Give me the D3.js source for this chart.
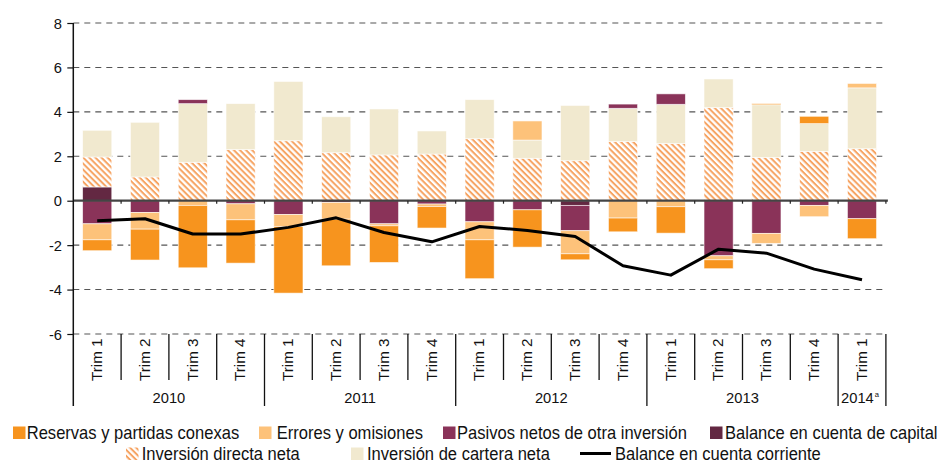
<!DOCTYPE html>
<html>
<head>
<meta charset="utf-8">
<script src="https://cdn.jsdelivr.net/npm/d3@7"></script>
<style>
  html, body { margin: 0; padding: 0; background: #fff; }
  svg { display: block; font-family: "Liberation Sans", Arial, sans-serif; }
</style>
</head>
<body>
<svg id="chart" width="946" height="464"></svg>
<script>
// ---------------- DATA ----------------
const quarters = ["Trim 1","Trim 2","Trim 3","Trim 4","Trim 1","Trim 2","Trim 3","Trim 4",
                  "Trim 1","Trim 2","Trim 3","Trim 4","Trim 1","Trim 2","Trim 3","Trim 4","Trim 1"];
const years = ["2010","2011","2012","2013","2014"];
const quartersPerYear = [4, 4, 4, 4, 1];
const yTicks = [-6, -4, -2, 0, 2, 4, 6, 8];

const capitalBalance = [0.62, 0, 0, 0, 0, 0, 0, 0, 0, 0, -0.21, 0, 0, 0, 0, 0, 0];
const directInvest   = [1.35, 1.07, 1.73, 2.30, 2.70, 2.16, 2.06, 2.10, 2.79, 1.91, 1.80, 2.66, 2.57, 4.19, 1.95, 2.22, 2.34];
const portfolioInv   = [1.20, 2.46, 2.64, 2.07, 2.67, 1.62, 2.07, 1.04, 1.76, 0.82, 2.49, 1.50, 1.77, 1.29, 2.37, 1.25, 2.74];
const otherLiab      = [-1.04, -0.53, 0.18, -0.14, -0.62, -0.08, -1.04, -0.15, -0.95, -0.41, -1.14, 0.19, 0.47, -2.48, -1.47, -0.21, -0.81];
const errorsOmis     = [-0.72, -0.75, -0.21, -0.72, -0.54, -0.75, -0.09, -0.11, -0.81, 0.86, -1.04, -0.78, -0.27, -0.18, -0.45, -0.51, 0.20];
const reserves       = [-0.49, -1.39, -2.81, -1.95, -3.00, -2.10, -1.65, -0.97, -1.75, -1.68, -0.27, -0.62, -1.19, -0.40, 0.05, 0.33, -0.90];
const currentAcct    = [-0.90, -0.81, -1.50, -1.50, -1.20, -0.77, -1.43, -1.85, -1.16, -1.34, -1.61, -2.93, -3.35, -2.18, -2.36, -3.08, -3.56];

const seriesKeys = ["capital", "direct", "portfolio", "liab", "errors", "reserves"];
const seriesNames = {
  reserves: "Reservas y partidas conexas",
  errors: "Errores y omisiones",
  liab: "Pasivos netos de otra inversión",
  capital: "Balance en cuenta de capital",
  direct: "Inversión directa neta",
  portfolio: "Inversión de cartera neta",
  line: "Balance en cuenta corriente"
};
// ---------------- STYLE ----------------
const colors = {
  reserves: "#f7941e",
  errors: "#fdc27a",
  liab: "#8a3359",
  capital: "#632842",
  direct: "url(#hatch)",
  portfolio: "#f1e9cf"
};

const svg = d3.select("#chart");
const plotLeft = 73.3, plotRight = 885.9, plotTop = 23, plotBottom = 334;

const defs = svg.append("defs");
const pat = defs.append("pattern")
  .attr("id", "hatch")
  .attr("patternUnits", "userSpaceOnUse")
  .attr("width", 4.3).attr("height", 4.3)
  .attr("patternTransform", "rotate(45)");
pat.append("rect").attr("width", 4.3).attr("height", 4.3).attr("fill", "#fff");
pat.append("rect").attr("width", 4.3).attr("height", 2.0).attr("fill", "#f6a463");

const table = quarters.map((q, i) => ({
  i,
  capital: capitalBalance[i],
  direct: directInvest[i],
  portfolio: portfolioInv[i],
  liab: otherLiab[i],
  errors: errorsOmis[i],
  reserves: reserves[i]
}));

const x = d3.scaleBand()
  .domain(d3.range(quarters.length))
  .range([plotLeft, plotRight])
  .paddingInner(0.39)
  .paddingOuter(0.195);
const step = x.step();
const xc = i => x(i) + x.bandwidth() / 2;

const y = d3.scaleLinear().domain([-6, 8]).range([plotBottom, plotTop]);

// text helper with horizontal compression
function label(g, px, py, str, size, anchor, sx) {
  return g.append("text")
    .attr("transform", `translate(${px},${py}) scale(${sx},1)`)
    .attr("text-anchor", anchor)
    .style("font-size", size + "px")
    .attr("fill", "#111")
    .text(str);
}

// gridlines
const grid = svg.append("g");
yTicks.filter(t => t !== 0).forEach(t => {
  grid.append("line")
    .attr("x1", plotLeft).attr("x2", plotRight + 1)
    .attr("y1", y(t)).attr("y2", y(t))
    .attr("stroke", "#555").attr("stroke-width", 1.1)
    .attr("stroke-dasharray", "6,5");
});

// y axis (ticks + labels)
const yAxis = d3.axisLeft(y).tickValues(yTicks).tickSize(6).tickFormat(d3.format("d"));
const yg = svg.append("g").attr("transform", `translate(${plotLeft},0)`).call(yAxis);
yg.select(".domain").remove();
yg.selectAll(".tick line").attr("stroke", "#111").attr("stroke-width", 1.2);
yg.selectAll(".tick text").remove();
yTicks.forEach(t => {
  label(svg, 62, y(t) + 5.5, String(t), 15.5, "end", 0.95);
});

// bars
const stack = d3.stack().keys(seriesKeys).offset(d3.stackOffsetDiverging);
const stacked = stack(table);
const barG = svg.append("g");
stacked.forEach(s => {
  barG.append("g")
    .selectAll("rect")
    .data(s.filter(d => d[1] - d[0] !== 0))
    .join("rect")
    .attr("x", d => x(d.data.i))
    .attr("width", x.bandwidth())
    .attr("y", d => y(Math.max(d[0], d[1])))
    .attr("height", d => Math.abs(y(d[0]) - y(d[1])))
    .attr("fill", colors[s.key])
    .attr("stroke", "#fff").attr("stroke-width", 0.8).attr("stroke-opacity", 0.7);
});

// zero line
svg.append("line")
  .attr("x1", plotLeft).attr("x2", plotRight + 2)
  .attr("y1", y(0)).attr("y2", y(0))
  .attr("stroke", "#444").attr("stroke-width", 2.2);
d3.range(1, quarters.length + 1).forEach(k => {
  const bx = plotLeft + k * step;
  svg.append("line").attr("x1", bx).attr("x2", bx)
    .attr("y1", y(0)).attr("y2", y(0) + 3)
    .attr("stroke", "#222").attr("stroke-width", 1.2);
});

// current account line
const lineGen = d3.line().x((d, i) => xc(i)).y(d => y(d));
svg.append("path")
  .datum(currentAcct)
  .attr("d", lineGen)
  .attr("fill", "none")
  .attr("stroke", "#000")
  .attr("stroke-width", 3)
  .attr("stroke-linejoin", "round");

// y axis line
svg.append("line")
  .attr("x1", plotLeft).attr("x2", plotLeft)
  .attr("y1", plotTop).attr("y2", 406)
  .attr("stroke", "#111").attr("stroke-width", 1.5);

// category separators
const yearStarts = [];
let acc = 0;
quartersPerYear.forEach(n => { yearStarts.push(acc); acc += n; });
yearStarts.push(acc);
d3.range(1, quarters.length + 1).forEach(k => {
  const bx = plotLeft + k * step;
  const isYear = yearStarts.includes(k);
  svg.append("line").attr("x1", bx).attr("x2", bx)
    .attr("y1", plotBottom).attr("y2", isYear ? 406 : 380)
    .attr("stroke", "#111").attr("stroke-width", 1.3);
});

// quarter labels
quarters.forEach((q, i) => {
  svg.append("text")
    .attr("transform", `translate(${xc(i) + 4.8},${338.5}) rotate(-90) scale(1.05,1)`)
    .attr("text-anchor", "end")
    .style("font-size", "14.5px")
    .attr("fill", "#111")
    .text(q);
});

// year labels
years.forEach((yr, j) => {
  const cx = plotLeft + (yearStarts[j] + yearStarts[j + 1]) / 2 * step;
  const t = svg.append("text")
    .attr("transform", `translate(${j === 4 ? cx - 2 : cx},403) scale(0.95,1)`)
    .attr("text-anchor", "middle")
    .style("font-size", "15.5px")
    .attr("fill", "#111")
    .text(yr);
  if (j === 4) {
    t.append("tspan").attr("dy", -6).attr("dx", 1).style("font-size", "8px").text("a");
  }
});

// legend
const legend = svg.append("g");
const legendItems = [
  { key: "reserves",  sx: 13,  tx: 26.7, row: 0, type: "box" },
  { key: "errors",    sx: 259, tx: 276.7, row: 0, type: "box" },
  { key: "liab",      sx: 443, tx: 457,  row: 0, type: "box" },
  { key: "capital",   sx: 710, tx: 725,  row: 0, type: "box" },
  { key: "direct",    sx: 126, tx: 141.7, row: 1, type: "box" },
  { key: "portfolio", sx: 351, tx: 367,  row: 1, type: "box" },
  { key: "line",      sx: 580, tx: 615,  row: 1, type: "line" }
];
const rowBase = [439, 460];
legendItems.forEach(it => {
  const base = rowBase[it.row];
  if (it.type === "box") {
    legend.append("rect")
      .attr("x", it.sx).attr("y", base - 12.5)
      .attr("width", 12.5).attr("height", 12.5)
      .attr("fill", colors[it.key]);
  } else {
    legend.append("line")
      .attr("x1", it.sx).attr("x2", it.sx + 31)
      .attr("y1", base - 6.5).attr("y2", base - 6.5)
      .attr("stroke", "#000").attr("stroke-width", 3);
  }
  label(legend, it.tx, base, seriesNames[it.key], it.row === 0 ? 18 : 17.5, "start", it.row === 0 ? 0.92 : 0.945);
});
</script>
</body>
</html>
